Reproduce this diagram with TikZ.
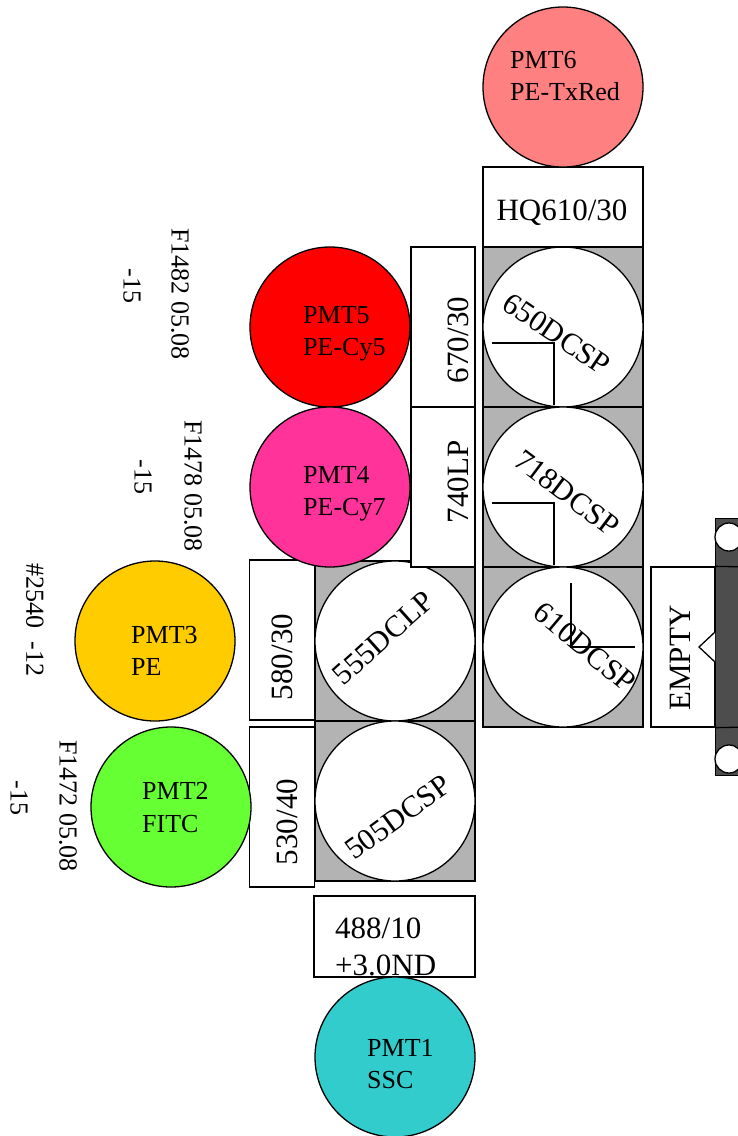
\documentclass[tikz,border=0pt]{standalone}
\usepackage{fontspec}
\setmainfont{Liberation Serif}
\definecolor{grayf}{HTML}{B3B3B3}
\definecolor{darkbar}{HTML}{4D4D4D}
\definecolor{c6}{HTML}{FF8080}
\definecolor{c5}{HTML}{FF0000}
\definecolor{c4}{HTML}{FF3399}
\definecolor{c3}{HTML}{FFCC00}
\definecolor{c2}{HTML}{66FF33}
\definecolor{c1}{HTML}{33CCCC}
\tikzset{
  pmt/.style={circle, draw, line width=1.3pt, minimum size=160pt, inner sep=0pt},
  sqbox/.style={draw, fill=grayf, line width=1.3pt, minimum width=160pt, minimum height=160pt, inner sep=0pt},
  mirror/.style={circle, draw, fill=white, line width=1.3pt, minimum size=160pt, inner sep=0pt},
  fbox/.style={draw, fill=white, line width=1.3pt, inner sep=0pt},
  lbl/.style={font=\fontsize{26}{32}\selectfont, inner sep=0pt, anchor=base west},
  flt/.style={font=\fontsize{31}{37}\selectfont, inner sep=0pt},
  diag/.style={font=\fontsize{30.5}{36}\selectfont, inner sep=0pt},
  note/.style={font=\fontsize{26}{32}\selectfont, inner sep=0pt, rotate=-90},
  markline/.style={line width=1.3pt}
}
\begin{document}
\begin{tikzpicture}[x=1pt, y=-1pt]
\useasboundingbox (0,0) rectangle (738,1136);

% grey mirror squares
\node[sqbox] (s650) at (563,327) {};
\node[sqbox] (s718) at (563,487) {};
\node[sqbox] (s610) at (563,647) {};
\node[sqbox] (s555) at (395,641) {};
\node[sqbox] (s505) at (395,801) {};
\node[mirror] (m650) at (563,327) {};
\node[mirror] (m718) at (563,487) {};
\node[mirror] (m610) at (563,647) {};
\node[mirror] (m555) at (395,641) {};
\node[mirror] (m505) at (395,801) {};

% filter boxes
\node[fbox, minimum width=160pt, minimum height=80pt] (hq) at (563,207) {};
\node[fbox, minimum width=64pt, minimum height=160pt] (f670) at (443,327) {};
\node[fbox, minimum width=64pt, minimum height=160pt] (f740) at (443,487) {};
\node[fbox, minimum width=65pt, minimum height=160pt] (f580) at (282,640) {};
\node[fbox, minimum width=65pt, minimum height=160pt] (f530) at (282,807) {};
\node[fbox, minimum width=161pt, minimum height=81pt] (f488) at (394.5,936.5) {};

% PMT circles
\node[pmt, fill=c6] (p6) at (563,87) {};
\node[pmt, fill=c5] (p5) at (330,327) {};
\node[pmt, fill=c4] (p4) at (330,487) {};
\node[pmt, fill=c3] (p3) at (155,641) {};
\node[pmt, fill=c2] (p2) at (171,807) {};
\node[pmt, fill=c1] (p1) at (395,1057) {};

% right bar and EMPTY slot
\node[draw, fill=darkbar, line width=1.3pt, minimum width=40pt, minimum height=257pt, inner sep=0pt, anchor=north west] (bar) at (715,518) {};
\node[fbox, minimum width=64pt, minimum height=160pt] (empty) at (683,647) {};
\coordinate (e1) at (750,567);
\coordinate (e2) at (750,727);
\draw[markline] (empty.north east) -- (e1);
\draw[markline] (empty.south east) -- (e2);
\node[circle, draw, fill=white, line width=1.3pt, minimum size=28pt, inner sep=0pt] (hole1) at (729,537) {};
\node[circle, draw, fill=white, line width=1.3pt, minimum size=28pt, inner sep=0pt] (hole2) at (729,759) {};
\coordinate (t1) at (715,632);
\coordinate (t2) at (699,647);
\coordinate (t3) at (715,662);
\draw[markline, fill=white] (t1) -- (t2) -- (t3);

% marks inside mirrors
\draw[markline] (492,343) -- (554,343) -- (554,405);
\draw[markline] (492,503) -- (554,503) -- (554,565);
\draw[markline] (571,583) -- (571,647) -- (635,647);

% PMT labels
\node[lbl] (t6a) at (510,68) {PMT6};
\node[lbl] (t6b) at (510,100) {PE-TxRed};
\node[lbl] (t5a) at (303,323) {PMT5};
\node[lbl] (t5b) at (303,355) {PE-Cy5};
\node[lbl] (t4a) at (303,483) {PMT4};
\node[lbl] (t4b) at (303,515) {PE-Cy7};
\node[lbl] (t3a) at (131,643) {PMT3};
\node[lbl] (t3b) at (131,675) {PE};
\node[lbl] (t2a) at (142,799) {PMT2};
\node[lbl] (t2b) at (142,832) {FITC};
\node[lbl] (t1a) at (367,1056) {PMT1};
\node[lbl] (t1b) at (367,1088) {SSC};

% filter labels
\node[flt, anchor=base] (lhq) at (562,220) {HQ610/30};
\node[flt, rotate=90] (l670) at (458,340) {670/30};
\node[flt, rotate=90] (l740) at (458,482) {740LP};
\node[flt, rotate=90] (l580) at (282,657) {580/30};
\node[flt, rotate=90] (l530) at (287,822) {530/40};
\node[flt, rotate=90] (lempty) at (680,658) {EMPTY};
\node[flt, anchor=base west] (l488a) at (335,938) {488/10};
\node[flt, anchor=base west] (l488b) at (335,975) {+3.0ND};

% mirror labels
\node[diag, rotate=-34] (d650) at (557,334) {650DCSP};
\node[diag, rotate=-37] (d718) at (567,493) {718DCSP};
\node[diag, rotate=-40] (d610) at (585,647) {610DCSP};
\node[diag, rotate=42] (d555) at (383,638) {555DCLP};
\node[diag, rotate=36] (d505) at (398,817) {505DCSP};

% side notes
\node[note] (n1) at (180,294) {F1482 05.08};
\node[note] (n2) at (132,286) {-15};
\node[note] (n3) at (193,486) {F1478 05.08};
\node[note] (n4) at (143,477) {-15};
\node[note] (n5) at (35,620) {\#2540\ \ -12};
\node[note] (n6) at (68,806) {F1472 05.08};
\node[note] (n7) at (19,798) {-15};
\end{tikzpicture}
\end{document}
